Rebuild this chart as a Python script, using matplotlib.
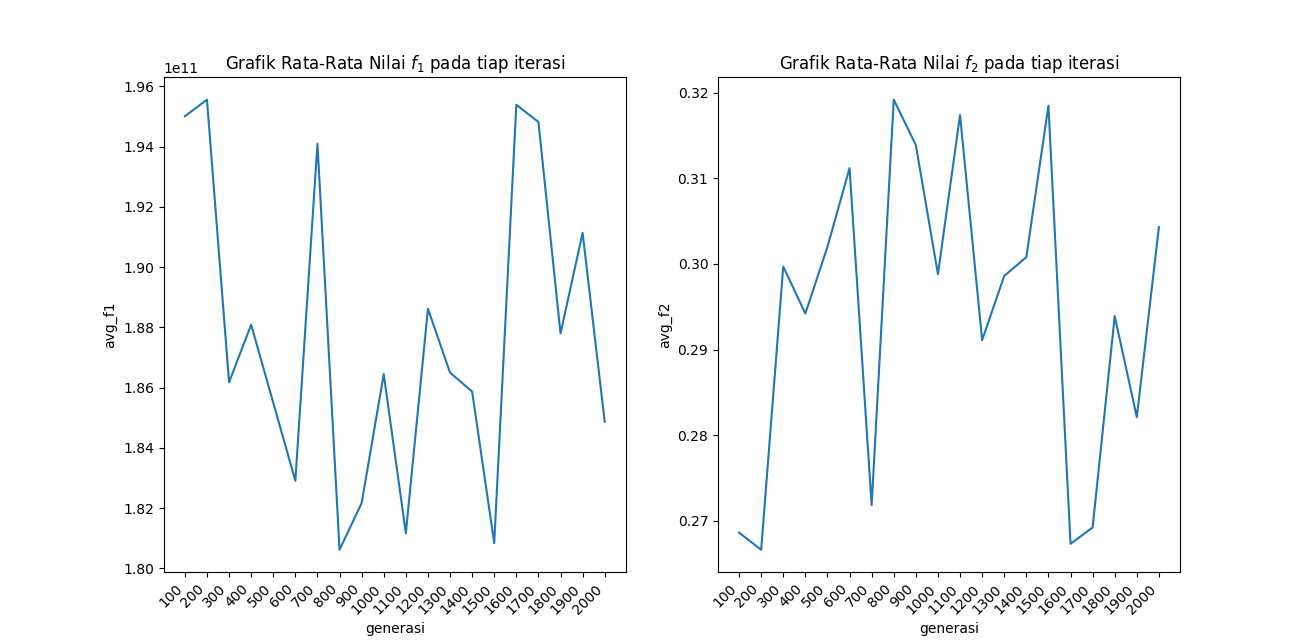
import matplotlib
matplotlib.use('Agg')
import matplotlib.pyplot as plt

# generasi (iterasi)
generasi = [100, 200, 300, 400, 500, 600, 700, 800, 900, 1000,
            1100, 1200, 1300, 1400, 1500, 1600, 1700, 1800, 1900, 2000]

# rata-rata nilai f1 tiap iterasi
avg_f1 = [1.9501e11, 1.9556e11, 1.8618e11, 1.8809e11, 1.8550e11,
          1.8291e11, 1.9410e11, 1.8062e11, 1.8217e11, 1.8645e11,
          1.8117e11, 1.8862e11, 1.8650e11, 1.8587e11, 1.8084e11,
          1.9539e11, 1.9482e11, 1.8780e11, 1.9114e11, 1.8487e11]

# rata-rata nilai f2 tiap iterasi
avg_f2 = [0.2686, 0.2666, 0.2997, 0.2942, 0.3020,
          0.3112, 0.2718, 0.3192, 0.3139, 0.2988,
          0.3174, 0.2911, 0.2986, 0.3008, 0.3185,
          0.2673, 0.2692, 0.2939, 0.2821, 0.3043]

fig, (ax1, ax2) = plt.subplots(1, 2, figsize=(13.11, 6.43), dpi=100)

# plot f1
ax1.plot(generasi, avg_f1)
ax1.set_title('Grafik Rata-Rata Nilai $f_1$ pada tiap iterasi')
ax1.set_xlabel('generasi')
ax1.set_ylabel('avg_f1')
ax1.set_xticks(generasi)
ax1.set_xticklabels(generasi, rotation=45, ha='right')

# plot f2
ax2.plot(generasi, avg_f2)
ax2.set_title('Grafik Rata-Rata Nilai $f_2$ pada tiap iterasi')
ax2.set_xlabel('generasi')
ax2.set_ylabel('avg_f2')
ax2.set_xticks(generasi)
ax2.set_xticklabels(generasi, rotation=45, ha='right')

plt.savefig('out.png')
